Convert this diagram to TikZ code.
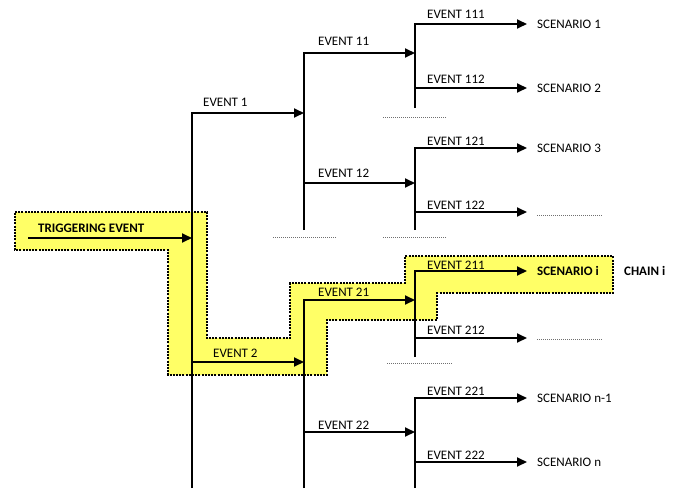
\documentclass[tikz,border=0pt]{standalone}
\usepackage{fontspec}
\setmainfont{Carlito}
\usetikzlibrary{arrows.meta, positioning}
\definecolor{chainfill}{HTML}{FFFF66}
\definecolor{gapgray}{HTML}{707070}

\begin{document}
\begin{tikzpicture}[
  x=1pt, y=-1pt,
  every node/.style={font=\fontsize{13}{15}\selectfont},
  branch/.style={line width=1.8pt, -{Triangle[length=10pt,width=9pt]}},
  evlabel/.style={anchor=base west, inner sep=0pt},
  outcome/.style={anchor=west, inner sep=0pt},
  gap/.style={line width=0.9pt, gapgray, dash pattern=on 1pt off 1pt},
  chain/.style={fill=chainfill, draw=black, line width=2.6pt, dash pattern=on 2pt off 1.2pt},
]
\useasboundingbox (0,0) rectangle (676,490);

% highlighted chain i
\draw[chain] (15,212) -- (207,212) -- (207,338) -- (290,338) -- (290,283) -- (405,283)
  -- (405,256) -- (613,256) -- (613,293) -- (437,293) -- (437,320) -- (327,320)
  -- (327,375) -- (168,375) -- (168,250) -- (15,250) -- cycle;

% trigger and first fork
\coordinate (root) at (28,238);
\coordinate (a1) at (192,488);
\coordinate (e1) at (304,113);
\coordinate (e2) at (304,362);
\draw[branch] (root) -- (a1 |- root);
\draw[branch] (a1) |- (e1);
\draw[branch] (a1 |- e2) -- (e2);

% second forks
\coordinate (a11) at (304,230);
\coordinate (e11) at (415,53);
\coordinate (e12) at (415,183);
\draw[branch] (a11) |- (e11);
\draw[branch] (a11 |- e12) -- (e12);
\coordinate (a12) at (304,488);
\coordinate (e21) at (415,300);
\coordinate (e22) at (415,432);
\draw[branch] (a12) |- (e21);
\draw[branch] (a12 |- e22) -- (e22);

% third forks
\coordinate (a111) at (415,108);
\coordinate (s1) at (527,24);
\coordinate (s2) at (527,88);
\draw[branch] (a111) |- (s1);
\draw[branch] (a111 |- s2) -- (s2);
\coordinate (a112) at (415,230);
\coordinate (s3) at (527,148);
\coordinate (s4) at (527,212);
\draw[branch] (a112) |- (s3);
\draw[branch] (a112 |- s4) -- (s4);
\coordinate (a121) at (415,357);
\coordinate (si) at (527,271);
\coordinate (s6) at (527,338);
\draw[branch] (a121) |- (si);
\draw[branch] (a121 |- s6) -- (s6);
\coordinate (a122) at (415,488);
\coordinate (sn1) at (527,398);
\coordinate (sn) at (527,462);
\draw[branch] (a122) |- (sn1);
\draw[branch] (a122 |- sn) -- (sn);

% event labels
\node[evlabel, font=\fontsize{13}{15}\selectfont\bfseries] (ltrig) at (38,232) {TRIGGERING EVENT};
\node[evlabel] (lev1) at (203,106) {EVENT 1};
\node[evlabel] (lev2) at (213,357) {EVENT 2};
\node[evlabel] (lev11) at (318,45) {EVENT 11};
\node[evlabel] (lev12) at (318,177) {EVENT 12};
\node[evlabel] (lev21) at (318,296) {EVENT 21};
\node[evlabel] (lev22) at (318,429) {EVENT 22};
\node[evlabel] (lev111) at (427,18) {EVENT 111};
\node[evlabel] (lev112) at (427,83) {EVENT 112};
\node[evlabel] (lev121) at (427,145) {EVENT 121};
\node[evlabel] (lev122) at (427,209) {EVENT 122};
\node[evlabel] (lev211) at (427,269) {EVENT 211};
\node[evlabel] (lev212) at (427,334) {EVENT 212};
\node[evlabel] (lev221) at (427,395) {EVENT 221};
\node[evlabel] (lev222) at (427,459) {EVENT 222};

% scenarios
\node[outcome, right=10pt of s1] (sc1) {SCENARIO 1};
\node[outcome, right=10pt of s2] (sc2) {SCENARIO 2};
\node[outcome, right=10pt of s3] (sc3) {SCENARIO 3};
\node[outcome, right=10pt of si, font=\fontsize{13}{15}\selectfont\bfseries] (sci) {SCENARIO i};
\node[outcome, right=25pt of sci, font=\fontsize{13}{15}\selectfont\bfseries] (chi) {CHAIN i};
\node[outcome, right=10pt of sn1] (scn1) {SCENARIO n-1};
\node[outcome, right=10pt of sn] (scn) {SCENARIO n};

% omitted branches
\draw[gap] (537,215) -- (602,215);
\draw[gap] (537,339) -- (602,339);
\draw[gap] (383,117) -- (447,117);
\draw[gap] (273,237) -- (337,237);
\draw[gap] (383,237) -- (447,237);
\draw[gap] (387,363) -- (452,363);
\end{tikzpicture}
\end{document}
